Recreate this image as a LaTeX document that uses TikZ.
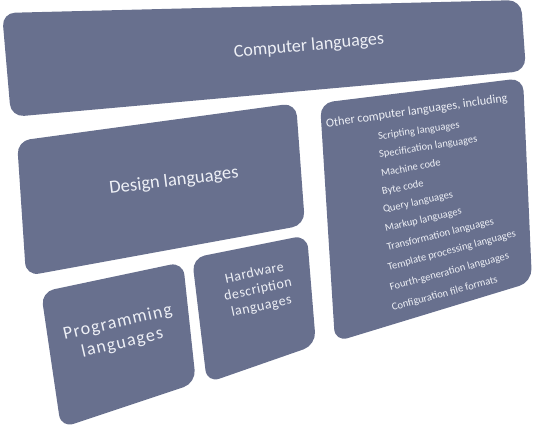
\documentclass[tikz,border=0pt]{standalone}
\usepackage{fontspec}
\setmainfont{Carlito}
\usepackage{xcolor}
\definecolor{slate}{RGB}{104,112,142}
\definecolor{pale}{RGB}{238,240,246}
\tikzset{panel/.style={fill=slate, rounded corners=13pt}}

\begin{document}
\begin{tikzpicture}[x=1pt,y=-1pt]
\useasboundingbox (0,0) rectangle (534,434);
\begin{scope}[panel]
\path[panel] (2,13) -- (521,0) -- (526,71) -- (11,117) -- cycle;
\path[panel] (17,141) -- (296,103) -- (305,225) -- (26,276) -- cycle;
\path[panel] (320,103) -- (523,78) -- (532,282) -- (335,342) -- cycle;
\path[panel] (41,292) -- (183,262) -- (196,383) -- (61,428) -- cycle;
\path[panel] (192,258) -- (307,235) -- (316,345) -- (207,383) -- cycle;
\end{scope}\begin{scope}[every node/.style={text=pale, align=center, inner sep=0pt}]
\node (computer) at (309,46) [rotate=5, font=\fontsize{18}{20}\selectfont] {Computer languages};
\node (design) at (174,181) [rotate=7, font=\fontsize{18.5}{20}\selectfont] {Design languages};
\node (programming) at (120,333) [rotate=13, font=\fontsize{18}{21}\selectfont\addfontfeature{LetterSpace=7}] {Programming\\languages};
\node (hardware) at (258,290) [rotate=12, font=\fontsize{14}{17}\selectfont\addfontfeature{LetterSpace=4}] {Hardware\\description\\languages};
\end{scope}\begin{scope}[every node/.style={text=pale, anchor=west, inner sep=0pt, font=\fontsize{10.5}{12}\selectfont}]
\node (other) at (326,124) [rotate=8, font=\fontsize{12.2}{14}\selectfont] {Other computer languages, including};
\node (scripting) at (378,137) [rotate=8] {Scripting languages};
\node (specification) at (379,155) [rotate=9] {Specification languages};
\node (machine) at (381,173) [rotate=10] {Machine code};
\node (byte) at (382,192) [rotate=11] {Byte code};
\node (query) at (383,210) [rotate=12] {Query languages};
\node (markup) at (385,229) [rotate=13] {Markup languages};
\node (transformation) at (387,248) [rotate=14] {Transformation languages};
\node (template) at (388,268) [rotate=15] {Template processing languages};
\node (fourth) at (390,288) [rotate=15] {Fourth-generation languages};
\node (configuration) at (392,308) [rotate=15] {Configuration file formats};
\end{scope}
\end{tikzpicture}
\end{document}
